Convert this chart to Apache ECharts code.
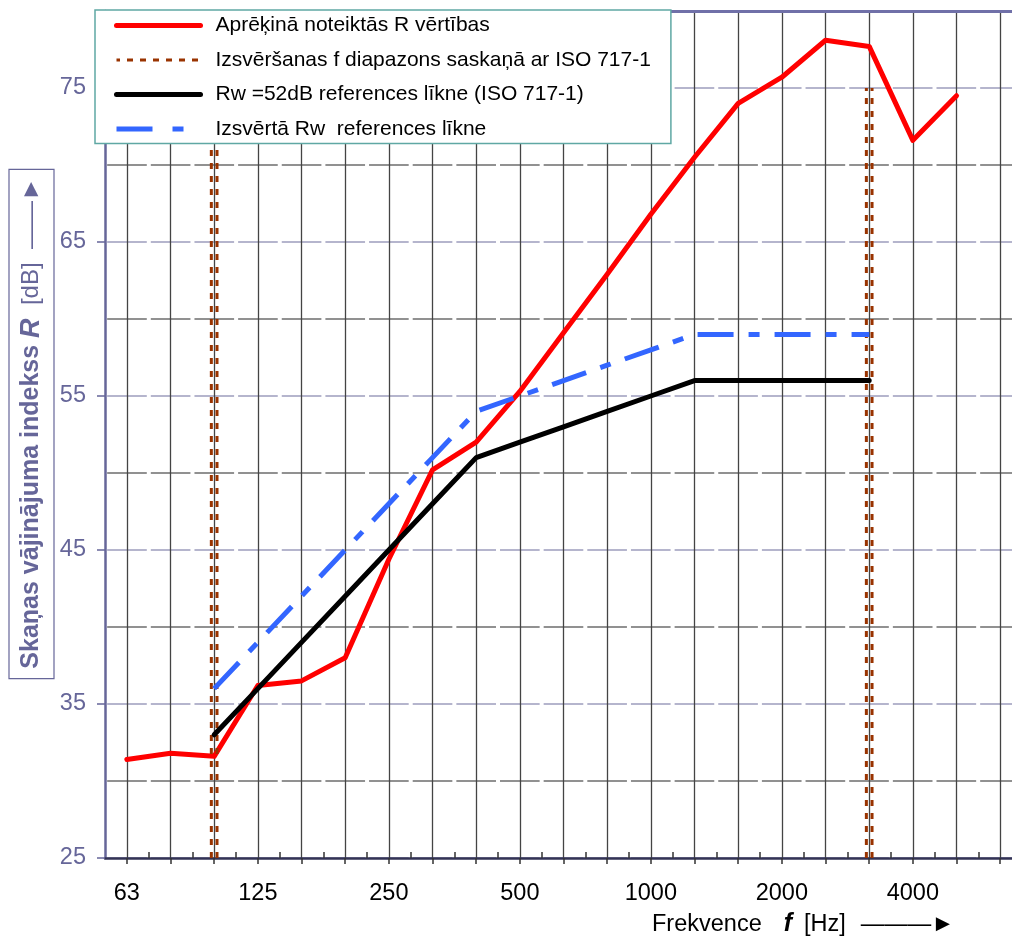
<!DOCTYPE html>
<html><head><meta charset="utf-8">
<script src="https://cdn.jsdelivr.net/npm/echarts@6/dist/echarts.min.js"></script>
<style>html,body{margin:0;padding:0;background:#fff}#c{width:1012px;height:937px}</style>
</head><body><div id="c"></div>
<script>
// ---- data ----
const freqs = ['63','80','100','125','160','200','250','315','400','500','630','800','1000','1250','1600','2000','2500','3150','4000','5000','6300'];
const tickLabels = ['63','125','250','500','1000','2000','4000'];
const yLabels = [25,35,45,55,65,75];

const measuredFreqs = ['63','80','100','125','160','200','250','315','400','500','630','800','1000','1250','1600','2000','2500','3150','4000','5000'];
const measuredR = [31.4,31.8,31.6,36.2,36.5,38.0,44.4,50.2,52.0,55.3,59.1,62.9,66.8,70.5,74.0,75.7,78.1,77.7,71.6,74.5];

const refFreqs = ['100','125','160','200','250','315','400','500','630','800','1000','1250','1600','2000','2500','3150'];
const refRw52 = [33,36,39,42,45,48,51,52,53,54,55,56,56,56,56,56];
const refShifted = [36,39,42,45,48,51,54,55,56,57,58,59,59,59,59,59];

const evalRange = ['100','3150'];
const evalLevels = [25,75];

const names = [
  'Aprēķinā noteiktās R vērtības',
  'Izsvēršanas f diapazons saskaņā ar ISO 717-1',
  'Rw =52dB references līkne (ISO 717-1)',
  'Izsvērtā Rw  references līkne'
];

// ---- helpers ----
const idx = f => freqs.indexOf(f);
const pairs = (fs, vs) => fs.map((f, i) => [idx(f), vs[i]]);
const FONT = 'Liberation Sans, Arial, sans-serif';
const SLATE = '#666699';
const XMIN = -0.5, XMAX = 20.27;
const DOT_OFF = 0.065; // visual double-line offset
const BLUE_ICON = 'path://M0,0h0.01v0.01h-0.01z M84,14h-0.01v-0.01h0.01z M0,4.5h36v5h-36z M56,4.5h11v5h-11z';

const evalSeries = [];
evalRange.forEach(f => {
  [-DOT_OFF, DOT_OFF].forEach(o => {
    evalSeries.push({
      name: names[1], type: 'line', symbol: 'none', z: 3,
      data: evalLevels.map(v => [idx(f) + o, v]),
      lineStyle: {color: '#993300', width: 3, type: [6, 7]},
      itemStyle: {color: '#993300'}
    });
  });
});

const chart = echarts.init(document.getElementById('c'), null, {renderer: 'canvas'});
chart.setOption({
  animation: false,
  backgroundColor: '#fff',
  grid: [
    {left: 105, right: 0, top: 11, bottom: 79, containLabel: false, outerBoundsMode: 'none'},
    // layout helper only: carries the y-axis title box
    {left: 105, right: 0, top: 0, height: 848, containLabel: false, outerBoundsMode: 'none'}
  ],
  legend: {
    orient: 'vertical', left: 95, top: 10,
    data: [names[0], names[1], names[2],
      {name: names[3], icon: BLUE_ICON, itemStyle: {opacity: 1, color: '#3366ff', borderWidth: 0}}],
    itemWidth: 84, itemHeight: 14, itemGap: 13.5,
    padding: [5, 20, 4, 19],
    backgroundColor: '#fff', borderColor: '#5fa8a4', borderWidth: 1.5,
    textStyle: {fontSize: 21, fontFamily: FONT, color: '#000', padding: [0, 0, 0, 10]},
    itemStyle: {opacity: 0},
    lineStyle: {width: 'inherit'}
  },
  xAxis: [
    {
      type: 'value', min: XMIN, max: XMAX, position: 'bottom',
      axisLine: {onZero: false, lineStyle: {color: '#333355', width: 2.5}},
      axisTick: {customValues: freqs.map((f, i) => i), length: 6, lineStyle: {color: '#333', width: 1.5}},
      axisLabel: {
        customValues: tickLabels.map(idx),
        formatter: v => freqs[Math.round(v)],
        color: '#000', fontSize: 23.5, fontFamily: FONT, margin: 24
      },
      splitLine: {show: true, lineStyle: {color: '#444', width: 1.3}}
    },
    {
      type: 'value', min: XMIN, max: XMAX, position: 'bottom',
      axisLine: {show: false, onZero: false},
      axisTick: {customValues: freqs.slice(1).map((f, i) => i + 0.5), inside: true, length: 6, lineStyle: {color: '#333', width: 1.5}},
      axisLabel: {show: false},
      splitLine: {show: false}
    },
    {
      type: 'value', min: XMIN, max: XMAX, position: 'top',
      axisLine: {onZero: false, lineStyle: {color: '#7070a8', width: 3}},
      axisTick: {show: false}, axisLabel: {show: false}, splitLine: {show: false}
    },
    {
      type: 'value', gridIndex: 1, min: XMIN, max: XMAX, show: false
    }
  ],
  yAxis: [
    {
      type: 'value', min: 25, max: 80, interval: 5, position: 'left',
      axisLine: {show: true, onZero: false, lineStyle: {color: SLATE, width: 2.5}},
      axisTick: {show: false},
      axisLabel: {
        formatter: v => (yLabels.indexOf(v) >= 0 ? String(v) : ''),
        color: SLATE, fontSize: 23.5, fontFamily: FONT, margin: 19
      },
      splitLine: {show: true, lineStyle: {color: ['#9d9dbd', '#6e6e6e'], width: 1.5, type: [39.65, 4], dashOffset: 41.5}}
    },
    {
      type: 'value', min: 25, max: 80, interval: 5, position: 'left',
      axisLine: {show: false, onZero: false},
      axisTick: {customValues: yLabels, length: 8, lineStyle: {color: SLATE, width: 1.5}},
      axisLabel: {show: false}, splitLine: {show: false}
    },
    {
      type: 'value', gridIndex: 1, min: 25, max: 80, position: 'left',
      axisLine: {show: false, onZero: false}, axisTick: {show: false},
      axisLabel: {show: false}, splitLine: {show: false},
      name: '{b|Skaņas vājinājuma indekss }{bi|R}{n|  [dB]  ——►}',
      nameLocation: 'middle', nameRotate: 90, nameGap: 51, nameMoveOverlap: false,
      nameTextStyle: {
        color: SLATE, borderColor: SLATE, borderWidth: 1.2, padding: [9, 8, 9, 10],
        rich: {
          b: {fontWeight: 'bold', fontSize: 25, fontFamily: FONT, color: SLATE},
          bi: {fontWeight: 'bold', fontStyle: 'italic', fontSize: 27, fontFamily: FONT, color: SLATE},
          n: {fontSize: 24, fontFamily: FONT, color: SLATE}
        }
      }
    }
  ],
  graphic: [{
    type: 'text', left: 652, top: 912, z: 100,
    style: {
      text: '{n|Frekvence}{s1| }{bi|f}{s2| }{n|[Hz]}{s3| }{n|———►}',
      rich: {
        n: {fontSize: 23.5, fontFamily: FONT, fill: '#000'},
        s1: {fontSize: 23.5, fontFamily: FONT, width: 22},
        s2: {fontSize: 23.5, fontFamily: FONT, width: 12},
        s3: {fontSize: 23.5, fontFamily: FONT, width: 15},
        bi: {fontSize: 25, fontFamily: FONT, fontWeight: 'bold', fontStyle: 'italic', fill: '#000'}
      }
    }
  }],
  series: [
    {
      name: names[0], type: 'line', symbol: 'none', z: 2,
      data: pairs(measuredFreqs, measuredR),
      lineStyle: {color: '#ff0000', width: 5, cap: 'round', join: 'round'},
      itemStyle: {color: '#ff0000'}
    },
    ...evalSeries,
    {
      name: names[2], type: 'line', symbol: 'none', z: 4,
      data: pairs(refFreqs, refRw52),
      lineStyle: {color: '#000', width: 5, cap: 'round'},
      itemStyle: {color: '#000'}
    },
    {
      name: names[3], type: 'line', symbol: 'none', z: 5,
      data: pairs(refFreqs, refShifted),
      lineStyle: {color: '#3366ff', width: 5, type: [36, 15, 11, 15]},
      itemStyle: {color: '#3366ff'}
    }
  ]
});
</script></body></html>
